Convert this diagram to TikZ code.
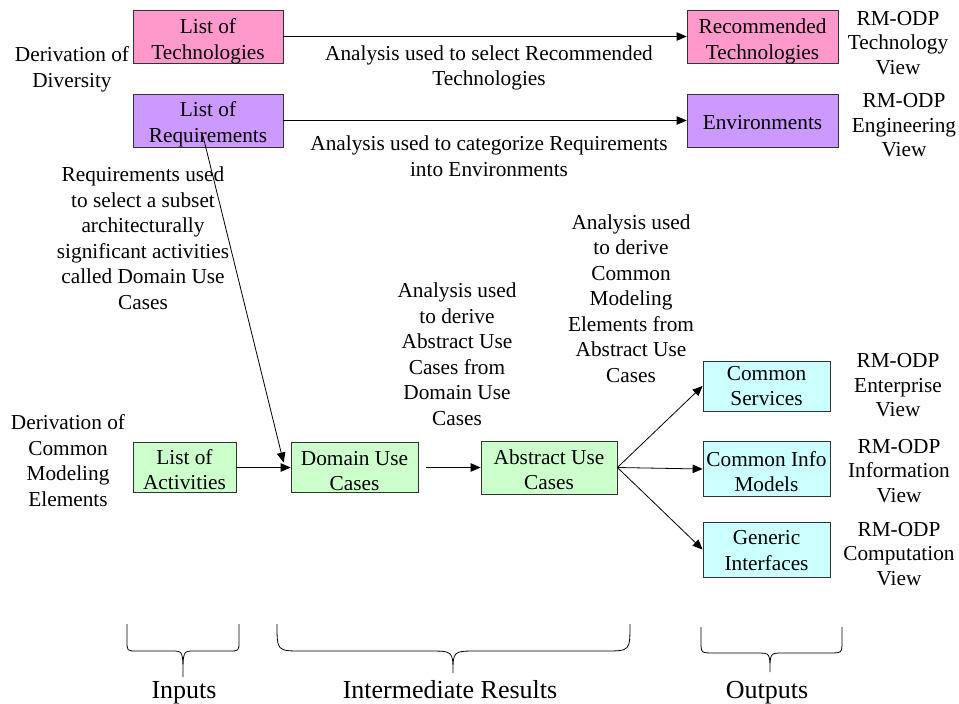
\documentclass[tikz,border=0pt]{standalone}
\usepackage{fontspec}
\setmainfont{Liberation Serif}
\usetikzlibrary{arrows.meta,calc}

\definecolor{techpink}{HTML}{FF99CC}
\definecolor{reqviolet}{HTML}{CC99FF}
\definecolor{actgreen}{HTML}{CCFFCC}
\definecolor{outcyan}{HTML}{CCFFFF}

\begin{document}
\begin{tikzpicture}[x=1pt,y=-1pt,
  every node/.style={font=\fontsize{21.3}{25.5}\selectfont, align=center, inner sep=0pt},
  box/.style n args={3}{draw=black!80, line width=0.8pt, fill=#1,
    minimum width=#2, minimum height=#3},
  boxtext/.style={yshift=#1},
  view/.style={font=\fontsize{21.3}{24.5}\selectfont},
  flow/.style={-{Triangle[length=10pt,width=8.5pt]}, line width=0.8pt, black},
  brace/.style={line width=0.8pt, black},
  group/.style={font=\fontsize{26}{30}\selectfont, anchor=base}]

% canvas
\fill[white] (0,0) rectangle (959,704);
\useasboundingbox (0,0) rectangle (959,704);

% ---- derivation of diversity ----
\node[box={techpink}{150pt}{53pt}] (lot) at (208,36.5) {};
\node[box={techpink}{151pt}{53pt}] (rt)  at (762.5,36.5) {};
\node[box={reqviolet}{150pt}{53pt}] (lor) at (208,120.5) {};
\node[box={reqviolet}{151pt}{53pt}] (env) at (762.5,120.5) {};
\node[boxtext=-5pt] (lot-t) at (lot) {List of\\Technologies};
\node[boxtext=-5pt] (rt-t)  at (rt)  {Recommended\\Technologies};
\node[boxtext=-4pt] (lor-t) at (lor) {List of\\Requirements};
\node[boxtext=-2pt] (env-t) at (env) {Environments};

\draw[flow] (lot) -- (rt);
\draw[flow] (lor) -- (env);

\node (t1) at (489,68) {Analysis used to select Recommended\\Technologies};
\node (t2) at (489,156) {Analysis used to categorize Requirements\\into Environments};
\node (div) at (72,69.5) {Derivation of\\Diversity};
\node[view] (v1) at (898,43) {RM-ODP\\Technology\\View};
\node[view] (v2) at (904,125.5) {RM-ODP\\Engineering\\View};

% ---- derivation of common modeling elements ----
\node[box={actgreen}{103pt}{50pt}] (loa) at (184.5,467.5) {};
\node[box={actgreen}{127pt}{50pt}] (duc) at (354.5,467.5) {};
\node[box={actgreen}{136pt}{53pt}] (auc) at (549,467.5) {};
\node[box={outcyan}{127pt}{50pt}] (cs)  at (766.5,386) {};
\node[box={outcyan}{127pt}{55pt}] (cim) at (766.5,469) {};
\node[box={outcyan}{127pt}{55pt}] (gi)  at (766.5,549.5) {};
\node[boxtext=-2pt]   (loa-t) at (loa) {List of\\Activities};
\node[boxtext=-3.5pt] (duc-t) at (duc) {Domain Use\\Cases};
\node[boxtext=-2pt]   (auc-t) at (auc) {Abstract Use\\Cases};
\node[boxtext=0pt]    (cs-t)  at (cs)  {Common\\Services};
\node[boxtext=-2.5pt] (cim-t) at (cim) {Common Info\\Models};
\node[boxtext=-1pt]   (gi-t)  at (gi)  {Generic\\Interfaces};

\draw[flow] (loa) -- (duc);
\draw[flow, shorten <=8pt] (duc) -- (auc);
\draw[flow] (auc.east) -- (cs.west);
\draw[flow] (auc.east) -- (cim.west);
\draw[flow] (auc.east) -- (gi.west);
\draw[flow] ($(lor.center)+(-5,15.5)$) -- ($(duc.west)+(-7,-5)$);

\node (req) at (143,238) {Requirements used\\to select a subset\\architecturally\\significant activities\\called Domain Use\\Cases};
\node (dcm) at (68,460.5) {Derivation of\\Common\\Modeling\\Elements};
\node (t3) at (457,354) {Analysis used\\to derive\\Abstract Use\\Cases from\\Domain Use\\Cases};
\node (t4) at (631,298.5) {Analysis used\\to derive\\Common\\Modeling\\Elements from\\Abstract Use\\Cases};
\node[view] (v3) at (898,385.5) {RM-ODP\\Enterprise\\View};
\node[view] (v4) at (899,471) {RM-ODP\\Information\\View};
\node[view] (v5) at (899,554) {RM-ODP\\Computation\\View};

% ---- grouping braces ----
\draw[brace] (127,624) -- (127,641) .. controls (127,651) .. (137,651) -- (172,651)
  .. controls (183,651) .. (183,677) .. controls (183,651) .. (194,651) -- (229,651)
  .. controls (239,651) .. (239,641) -- (239,624);
\draw[brace] (277,624) .. controls (277,651) .. (302,651) -- (428,651)
  .. controls (453,651) .. (453,673) .. controls (453,651) .. (478,651) -- (605,651)
  .. controls (630,651) .. (630,624);
\draw[brace] (701,627) -- (701,641) .. controls (701,653) .. (714,653) -- (757,653)
  .. controls (770,653) .. (770,672) .. controls (770,653) .. (783,653) -- (829,653)
  .. controls (842,653) .. (842,641) -- (842,627);

\node[group] (gin)  at (184,698) {Inputs};
\node[group] (gmid) at (450,698) {Intermediate Results};
\node[group] (gout) at (767,698) {Outputs};
\end{tikzpicture}
\end{document}
